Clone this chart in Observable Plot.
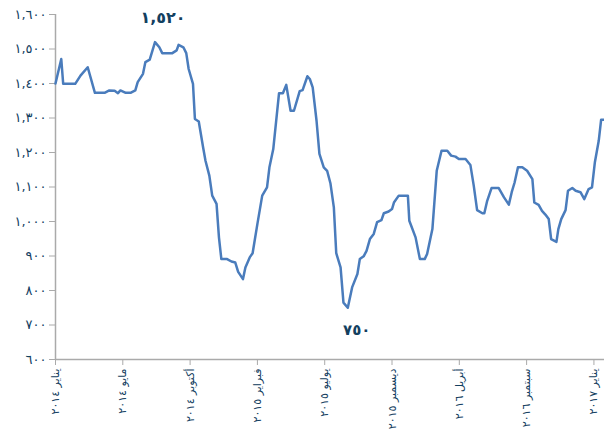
<!DOCTYPE html>
<html><head><meta charset="utf-8">
<script src="https://cdn.jsdelivr.net/npm/d3@7"></script>
<script src="https://cdn.jsdelivr.net/npm/@observablehq/plot@0.6"></script>
<style>body{margin:0;background:#fff} svg{display:block}</style>
</head><body><div id="chart"></div>
<script>
const dates = [
"2014-01-01","2014-01-13","2014-01-17","2014-02-11","2014-02-22","2014-03-09","2014-03-24","2014-04-13","2014-04-23","2014-05-04",
"2014-05-11","2014-05-16","2014-05-27","2014-06-06","2014-06-16","2014-06-21","2014-07-02","2014-07-07","2014-07-16","2014-07-27",
"2014-08-05","2014-08-11","2014-09-01","2014-09-10","2014-09-14","2014-09-24","2014-09-30","2014-10-05","2014-10-14","2014-10-18",
"2014-10-26","2014-11-04","2014-11-09","2014-11-17","2014-11-23","2014-12-02","2014-12-07","2014-12-12","2014-12-24","2015-01-02",
"2015-01-10","2015-01-16","2015-01-26","2015-01-31","2015-02-09","2015-02-15","2015-02-25","2015-03-07","2015-03-17","2015-03-22",
"2015-03-30","2015-04-11","2015-04-19","2015-04-26","2015-05-05","2015-05-12","2015-05-24","2015-05-30","2015-06-09","2015-06-14",
"2015-06-20","2015-06-28","2015-07-04","2015-07-13","2015-07-20","2015-07-27","2015-08-03","2015-08-08","2015-08-17","2015-08-23",
"2015-09-01","2015-09-10","2015-09-21","2015-09-26","2015-10-04","2015-10-10","2015-10-17","2015-10-25","2015-11-01","2015-11-10",
"2015-11-15","2015-11-25","2015-12-02","2015-12-06","2015-12-16","2016-01-04","2016-01-07","2016-01-20","2016-01-29","2016-02-08",
"2016-02-13","2016-02-24","2016-03-04","2016-03-14","2016-03-26","2016-04-03","2016-04-12","2016-04-19","2016-05-03","2016-05-13",
"2016-05-20","2016-05-27","2016-06-07","2016-06-11","2016-06-17","2016-06-26","2016-07-11","2016-07-22","2016-08-01","2016-08-07",
"2016-08-13","2016-08-20","2016-08-29","2016-09-08","2016-09-19","2016-09-23","2016-10-02","2016-10-09","2016-10-16","2016-10-23",
"2016-10-28","2016-11-08","2016-11-12","2016-11-18","2016-11-27","2016-12-02","2016-12-11","2016-12-18","2016-12-28","2017-01-05",
"2017-01-14","2017-01-21","2017-01-27","2017-02-04","2017-02-09","2017-02-15"];
const values = [
1400,1471,1399,1399,1423,1447,1373,1373,1380,1379,
1372,1380,1373,1373,1380,1404,1428,1462,1469,1520,
1505,1488,1488,1496,1512,1505,1488,1442,1399,1297,
1290,1215,1176,1133,1075,1051,954,891,891,884,
881,854,833,867,896,908,993,1075,1099,1157,
1210,1372,1372,1396,1321,1321,1378,1381,1421,1413,
1389,1292,1196,1157,1147,1110,1041,908,867,765,
750,809,848,891,899,915,949,964,998,1004,
1024,1029,1036,1055,1075,1075,1002,954,891,891,
906,978,1147,1205,1205,1191,1188,1181,1181,1164,
1104,1033,1024,1024,1060,1097,1097,1070,1049,1085,
1113,1157,1157,1147,1123,1055,1048,1031,1020,1007,
949,941,978,1007,1033,1089,1097,1089,1085,1065,
1094,1099,1172,1234,1295,1295];
const yTicks = [600,700,800,900,1000,1100,1200,1300,1400,1500,1600];
const xTickDates = ["2014-01-01","2014-05-21","2014-10-08","2015-02-25","2015-07-15","2015-12-02","2016-04-20","2016-09-07","2017-01-25"];
const xTickLabels = ["يناير ٢٠١٤","مايو ٢٠١٤","أكتوبر ٢٠١٤","فبراير ٢٠١٥","يوليو ٢٠١٥","ديسمبر ٢٠١٥","أبريل ٢٠١٦","سبتمبر ٢٠١٦","يناير ٢٠١٧"];
const annotationDates = ["2014-07-27","2015-09-01"];
const annotationValues = [1520, 750];

const parse = d3.utcParse("%Y-%m-%d");
const data = dates.map((d, i) => ({date: parse(d), value: values[i]}));
const ticks = xTickDates.map(parse);
const labelOf = new Map(ticks.map((t, i) => [+t, xTickLabels[i]]));
const arabic = s => String(s).replace(/\d/g, c => "٠١٢٣٤٥٦٧٨٩"[c]);
const fmt = v => arabic(d3.format(",")(v));
const ann = annotationDates.map((d, i) => ({date: parse(d), value: annotationValues[i]}));

const textColor = "#13405f";
const axisColor = "#aaaaaa";

const chart = Plot.plot({
  width: 604,
  height: 441,
  marginLeft: 55,
  marginRight: 0,
  marginTop: 14,
  marginBottom: 82,
  style: {fontFamily: "DejaVu Sans, sans-serif", fontSize: "11px", color: textColor, background: "#fff"},
  x: {type: "utc", domain: [parse("2014-01-01"), parse("2017-02-16")]},
  y: {domain: [600, 1600]},
  marks: [
    Plot.ruleY([600], {stroke: axisColor, strokeWidth: 1.5}),
    Plot.ruleX([parse("2014-01-01")], {stroke: axisColor, strokeWidth: 1.5}),
    Plot.axisY({ticks: yTicks, tickFormat: fmt, tickSize: 6, tickPadding: 3, stroke: axisColor, fill: textColor, label: null, fontSize: 13}),
    Plot.axisX({ticks: ticks, tickFormat: d => labelOf.get(+d), tickSize: 6, tickPadding: 3, tickRotate: -90, stroke: axisColor, fill: textColor, label: null, fontSize: 11}),
    Plot.line(data, {x: "date", y: "value", stroke: "#4a7cbc", strokeWidth: 2.5, strokeLinejoin: "round"}),
    Plot.text(ann.slice(0, 1), {x: "date", y: "value", text: d => fmt(d.value), dx: 8, dy: -24, fill: textColor, fontSize: 16, fontWeight: "bold"}),
    Plot.text(ann.slice(1), {x: "date", y: "value", text: d => fmt(d.value), dx: 9, dy: 22, fill: textColor, fontSize: 15, fontWeight: "bold"})
  ]
});
document.getElementById("chart").appendChild(chart);
</script>
</body></html>
